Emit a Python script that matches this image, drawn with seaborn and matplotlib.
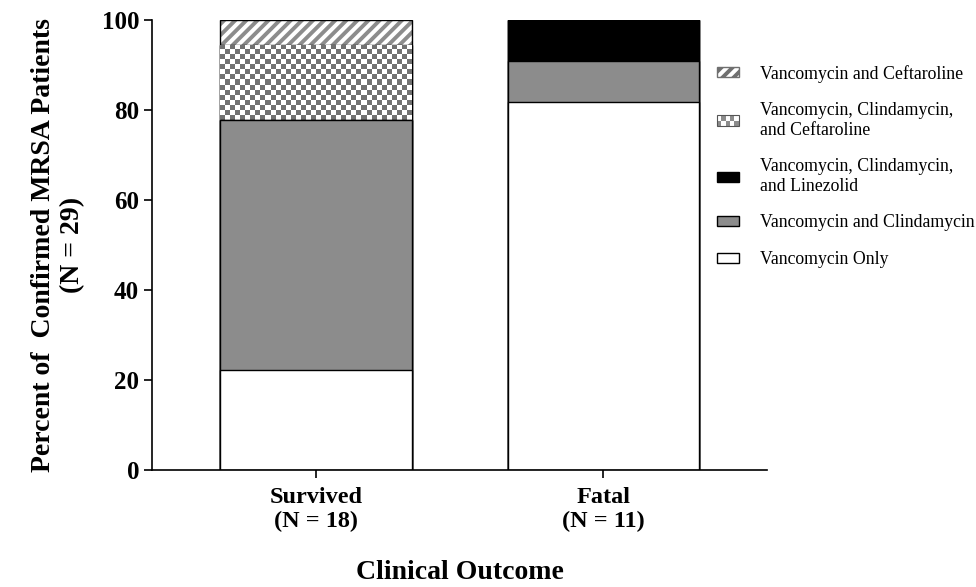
import numpy as np
import matplotlib
matplotlib.use("Agg")
import matplotlib.pyplot as plt
from matplotlib.patches import Patch, Rectangle
from matplotlib.legend_handler import HandlerBase
import seaborn as sns

# Data (percent of patients within each outcome group)
outcomes = ["Survived\n(N = 18)", "Fatal\n(N = 11)"]
vanc_only = [22.2, 81.8]
vanc_clinda = [55.6, 9.1]
vanc_clinda_linez = [0.0, 9.1]
vanc_clinda_ceft = [16.7, 0.0]
vanc_ceft = [5.6, 0.0]

layer_names = ["Vancomycin Only",
               "Vancomycin and Clindamycin",
               "Vancomycin, Clindamycin,\nand Linezolid",
               "Vancomycin, Clindamycin,\nand Ceftaroline",
               "Vancomycin and Ceftaroline"]
layers = [vanc_only, vanc_clinda, vanc_clinda_linez, vanc_clinda_ceft, vanc_ceft]
tops = np.cumsum(np.array(layers), axis=0)

# style per layer: facecolor, hatch, checker
styles = [("white", None, False),
          ("#8c8c8c", None, False),
          ("black", None, False),
          ("white", None, True),
          ("white", "///", False)]

sns.set_style("ticks")
plt.rcParams["font.family"] = ["Liberation Serif", "DejaVu Serif"]
plt.rcParams["hatch.linewidth"] = 2.8
plt.rcParams["text.color"] = "black"
plt.rcParams["axes.labelcolor"] = "black"
plt.rcParams["xtick.color"] = "black"
plt.rcParams["ytick.color"] = "black"
plt.rcParams["axes.edgecolor"] = "black"


class CheckerHandler(HandlerBase):
    # small checkerboard swatch for the legend
    def create_artists(self, legend, orig_handle, xdescent, ydescent,
                       width, height, fontsize, trans):
        arts = []
        nx, ny = 5, 2
        cw, ch = width / nx, height / ny
        for r in range(ny):
            for c in range(nx):
                col = "#8c8c8c" if (r + c) % 2 == 0 else "white"
                arts.append(Rectangle((-xdescent + c * cw, -ydescent + r * ch), cw, ch,
                                      facecolor=col, edgecolor="none", transform=trans))
        arts.append(Rectangle((-xdescent, -ydescent), width, height, facecolor="none",
                              edgecolor="#555555", linewidth=0.8, transform=trans))
        return arts


fig = plt.figure(figsize=(9.76, 5.87), dpi=100)
ax = fig.add_axes([0.156, 0.199, 0.630, 0.767])

bar_w = 0.667
lw = 1.0
# draw cumulative bars from the top layer down so lower layers cover upper ones
for i in reversed(range(len(layers))):
    face, hatch, checker = styles[i]
    n_before = len(ax.patches)
    if hatch:
        sns.barplot(x=outcomes, y=tops[i], color=face, saturation=1, width=bar_w,
                    hatch=hatch, edgecolor="#8c8c8c", linewidth=0, ax=ax)
        sns.barplot(x=outcomes, y=tops[i], fill=False, width=bar_w,
                    edgecolor="black", linewidth=lw, ax=ax)
    else:
        sns.barplot(x=outcomes, y=tops[i], color=face, saturation=1, width=bar_w,
                    edgecolor="black", linewidth=lw, ax=ax)
    if checker:
        for j, p in enumerate(ax.patches[n_before:]):
            if layers[i][j] <= 0:
                continue
            x0, w = p.get_x(), p.get_width()
            y1 = p.get_height()
            y0 = y1 - layers[i][j]
            nx, ny = 38, 15
            board = (np.add.outer(np.arange(ny), np.arange(nx)) % 2).astype(float)
            im = ax.imshow(board, cmap="gray", vmin=-0.8, vmax=1,
                           extent=(x0, x0 + w, y0, y1), aspect="auto",
                           interpolation="nearest", zorder=p.get_zorder())
            im.set_clip_path(p)

ax.set_xlim(-0.57, 1.57)
ax.set_ylim(0, 100)
ax.set_yticks([0, 20, 40, 60, 80, 100])
sns.despine(ax=ax)
ax.spines["left"].set_linewidth(1.2)
ax.spines["bottom"].set_linewidth(1.2)
ax.tick_params(axis="y", length=6, width=1.2, labelsize=18)
ax.tick_params(axis="x", length=6, width=1.2, labelsize=17.5, pad=6)
for lab in ax.get_xticklabels() + ax.get_yticklabels():
    lab.set_fontweight("bold")

ax.set_ylabel("Percent of  Confirmed MRSA Patients\n(N = 29)",
              fontsize=20, fontweight="bold", labelpad=12)
ax.set_xlabel("Clinical Outcome", fontsize=20, fontweight="bold", labelpad=20)

# legend (top to bottom matches stacking order)
handles = [Patch(facecolor="white", edgecolor="#6f6f6f", hatch="///"),
           Patch(facecolor="white", edgecolor="#8c8c8c"),
           Patch(facecolor="black", edgecolor="black"),
           Patch(facecolor="#8c8c8c", edgecolor="black"),
           Patch(facecolor="white", edgecolor="black")]
labels = [layer_names[4], layer_names[3], layer_names[2], layer_names[1], layer_names[0]]
fig.legend(handles, labels, loc="upper left", bbox_to_anchor=(0.727, 0.902),
           frameon=False, fontsize=12.8, handlelength=1.25, handleheight=0.5,
           labelspacing=1.1, handletextpad=1.2, borderaxespad=0,
           handler_map={handles[1]: CheckerHandler()})

fig.savefig("out.png", dpi=100)
